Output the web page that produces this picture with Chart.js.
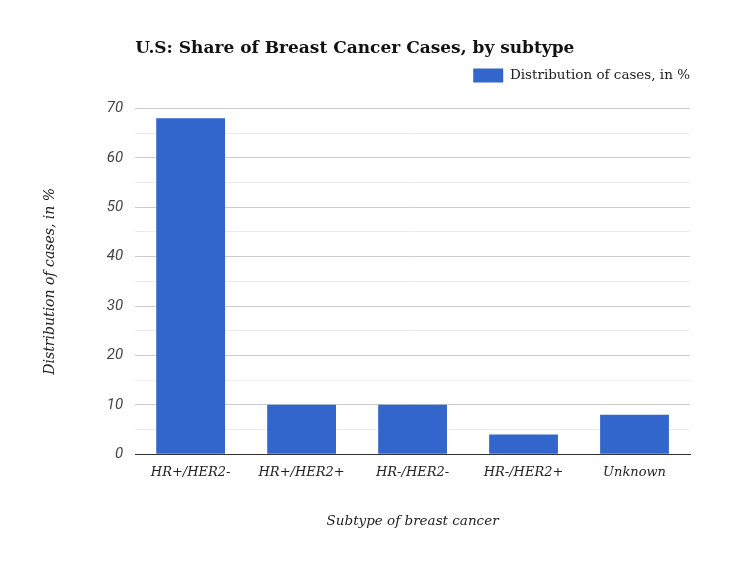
<!DOCTYPE html>
<html>
<head>
<meta charset="utf-8">
<script src="https://cdn.jsdelivr.net/npm/chart.js@4"></script>
<style>
  html, body { margin: 0; padding: 0; background: #fff; }
  #wrap { width: 750px; height: 563px; }
</style>
</head>
<body>
<div id="wrap"><canvas id="myChart" width="750" height="563"></canvas></div>
<script>
// data
const subtypes = ['HR+/HER2-', 'HR+/HER2+', 'HR-/HER2-', 'HR-/HER2+', 'Unknown'];
const shares = [68, 10, 10, 4, 8];
const seriesName = 'Distribution of cases, in %';
const yMax = 70;

const serif = "'DejaVu Serif', 'Liberation Serif', serif";

// title starts at the plot's left edge, legend flush with its right edge,
// and a bit more room under the legend
const layoutTweaks = {
  id: 'layoutTweaks',
  afterInit(chart) {
    const lg = chart.legend;
    if (lg) {
      const fit = lg.fit;
      lg.fit = function () {
        fit.call(this);
        this.height += 16;
      };
    }
  },
  afterLayout(chart) {
    if (chart.titleBlock) {
      chart.titleBlock.left = chart.chartArea.left;
    }
    if (chart.legend) {
      chart.legend.left += 10;
      chart.legend.right += 10;
    }
  }
};

const ctx = document.getElementById('myChart').getContext('2d');
const chart = new Chart(ctx, {
  type: 'bar',
  data: {
    labels: subtypes,
    datasets: [{
      label: seriesName,
      data: shares,
      backgroundColor: '#3366cc',
      borderWidth: 0,
      barPercentage: 0.62,
      categoryPercentage: 1
    }]
  },
  options: {
    responsive: false,
    animation: false,
    layout: { padding: { top: 38, left: 42, right: 60, bottom: 33 } },
    plugins: {
      title: {
        display: true,
        text: 'U.S: Share of Breast Cancer Cases, by subtype',
        align: 'start',
        color: '#111',
        font: { family: serif, size: 17, weight: 'bold' },
        padding: { top: 0, bottom: 0 }
      },
      legend: {
        align: 'end',
        labels: {
          boxWidth: 30,
          boxHeight: 14,
          color: '#222',
          font: { family: serif, size: 13.5 }
        }
      },
      tooltip: { enabled: false }
    },
    scales: {
      x: {
        grid: { display: false, drawTicks: false },
        border: { color: '#333', width: 1 },
        ticks: {
          color: '#222',
          padding: 11,
          font: { family: serif, size: 13, style: 'italic' }
        },
        title: {
          display: true,
          text: 'Subtype of breast cancer',
          color: '#222',
          font: { family: serif, size: 13.5, style: 'italic' },
          padding: { top: 22, bottom: 0 }
        }
      },
      y: {
        min: 0,
        max: yMax,
        border: { display: false },
        grid: {
          drawTicks: false,
          color: c => (c.tick && c.tick.value % 10 === 0) ? '#cccccc' : '#ececec'
        },
        ticks: {
          stepSize: 5,
          padding: 12,
          color: '#444',
          font: { family: "Roboto, 'Liberation Sans', sans-serif", size: 15, style: 'italic' },
          callback: v => (v % 10 === 0 ? v : '')
        },
        title: {
          display: true,
          text: 'Distribution of cases, in %',
          color: '#222',
          font: { family: serif, size: 14, style: 'italic' },
          padding: { top: 0, bottom: 36 }
        }
      }
    }
  },
  plugins: [layoutTweaks]
});
</script>
</body>
</html>
